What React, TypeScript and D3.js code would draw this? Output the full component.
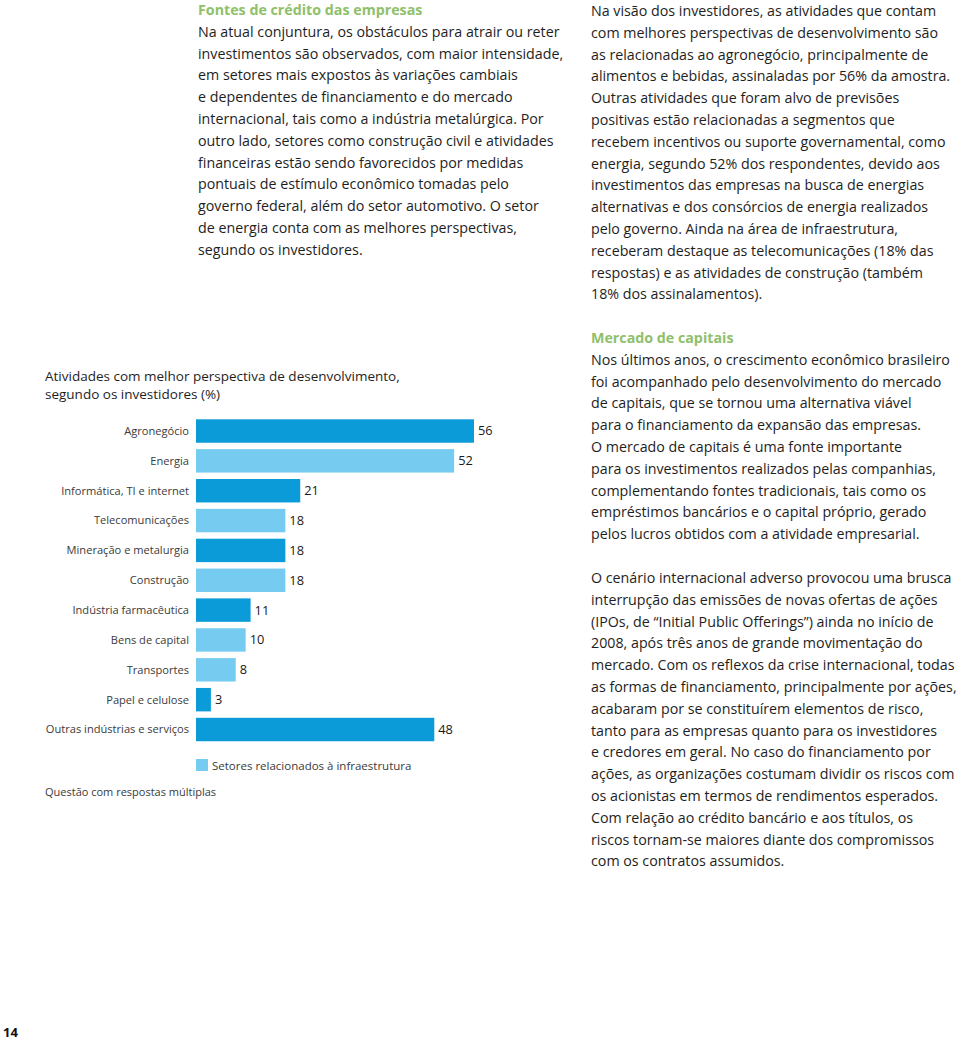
import React from "react";
import * as d3 from "d3";

const categories = [
  "Agronegócio",
  "Energia",
  "Informática, TI e internet",
  "Telecomunicações",
  "Mineração e metalurgia",
  "Construção",
  "Indústria farmacêutica",
  "Bens de capital",
  "Transportes",
  "Papel e celulose",
  "Outras indústrias e serviços",
];
const values = [56, 52, 21, 18, 18, 18, 11, 10, 8, 3, 48];
const infra = [false, true, false, true, false, true, false, true, true, false, false];

const chartTitle = [
  "Atividades com melhor perspectiva de desenvolvimento,",
  "segundo os investidores (%)",
];
const legendLabel = "Setores relacionados à infraestrutura";
const footnote = "Questão com respostas múltiplas";

const col1Heading = "Fontes de crédito das empresas";
const col1Lines = [
  "Na atual conjuntura, os obstáculos para atrair ou reter",
  "investimentos são observados, com maior intensidade,",
  "em setores mais expostos às variações cambiais",
  "e dependentes de financiamento e do mercado",
  "internacional, tais como a indústria metalúrgica. Por",
  "outro lado, setores como construção civil e atividades",
  "financeiras estão sendo favorecidos por medidas",
  "pontuais de estímulo econômico tomadas pelo",
  "governo federal, além do setor automotivo. O setor",
  "de energia conta com as melhores perspectivas,",
  "segundo os investidores.",
];
const col2Lines = [
  "Na visão dos investidores, as atividades que contam",
  "com melhores perspectivas de desenvolvimento são",
  "as relacionadas ao agronegócio, principalmente de",
  "alimentos e bebidas, assinaladas por 56% da amostra.",
  "Outras atividades que foram alvo de previsões",
  "positivas estão relacionadas a segmentos que",
  "recebem incentivos ou suporte governamental, como",
  "energia, segundo 52% dos respondentes, devido aos",
  "investimentos das empresas na busca de energias",
  "alternativas e dos consórcios de energia realizados",
  "pelo governo. Ainda na área de infraestrutura,",
  "receberam destaque as telecomunicações (18% das",
  "respostas) e as atividades de construção (também",
  "18% dos assinalamentos).",
];
const col2Heading = "Mercado de capitais";
const col2bLines = [
  "Nos últimos anos, o crescimento econômico brasileiro",
  "foi acompanhado pelo desenvolvimento do mercado",
  "de capitais, que se tornou uma alternativa viável",
  "para o financiamento da expansão das empresas.",
  "O mercado de capitais é uma fonte importante",
  "para os investimentos realizados pelas companhias,",
  "complementando fontes tradicionais, tais como os",
  "empréstimos bancários e o capital próprio, gerado",
  "pelos lucros obtidos com a atividade empresarial.",
];
const col2cLines = [
  "O cenário internacional adverso provocou uma brusca",
  "interrupção das emissões de novas ofertas de ações",
  "(IPOs, de “Initial Public Offerings”) ainda no início de",
  "2008, após três anos de grande movimentação do",
  "mercado. Com os reflexos da crise internacional, todas",
  "as formas de financiamento, principalmente por ações,",
  "acabaram por se constituírem elementos de risco,",
  "tanto para as empresas quanto para os investidores",
  "e credores em geral. No caso do financiamento por",
  "ações, as organizações costumam dividir os riscos com",
  "os acionistas em termos de rendimentos esperados.",
  "Com relação ao crédito bancário e aos títulos, os",
  "riscos tornam-se maiores diante dos compromissos",
  "com os contratos assumidos.",
];
const pageNumber = "14";

const DARK = "#0a9bd8";
const LIGHT = "#76cbf0";
const GREEN = "#8fc06a";
const TEXT = "#1e1e1e";
const FONT = "'Open Sans', 'Noto Sans', sans-serif";

export default function App() {
  const W = 960;
  const H = 1041;
  const lh = 21.8;
  const bodySize = 14.25;

  const x = d3.scaleLinear().domain([0, 56]).range([196, 474]);
  const step = 29.85;
  const p = 0.215;
  const y = d3
    .scaleBand<string>()
    .domain(categories)
    .range([419.3 - step * p, 419.3 - step * p + step * (categories.length + p)])
    .padding(p);

  const para = (lines: string[], x0: number, yc0: number) =>
    lines.map((t, i) => (
      <text key={t + i} x={x0} y={yc0 + i * lh} dy="0.35em" fontSize={bodySize} fill={TEXT}>
        {t}
      </text>
    ));

  return (
    <svg
      width={W}
      height={H}
      style={{ position: "absolute", left: 0, top: 0, background: "#fff" }}
      fontFamily={FONT}
    >
      <rect width={W} height={H} fill="#fff" />
      {/* Column 1 */}
      <text x={198} y={10} dy="0.35em" fontSize={bodySize} fontWeight={700} fill={GREEN}>
        {col1Heading}
      </text>
      {para(col1Lines, 198, 10 + lh)}

      {/* Column 2 */}
      {para(col2Lines, 591, 11)}
      <text x={591} y={338} dy="0.35em" fontSize={bodySize} fontWeight={700} fill={GREEN}>
        {col2Heading}
      </text>
      {para(col2bLines, 591, 338 + lh)}
      {para(col2cLines, 591, 578)}

      {/* Chart title */}
      {chartTitle.map((t, i) => (
        <text key={t} x={45} y={376 + i * 18} dy="0.35em" fontSize={13.5} fill={TEXT}>
          {t}
        </text>
      ))}

      {/* Bars */}
      {categories.map((c, i) => {
        const yy = y(c)!;
        const bw = y.bandwidth();
        return (
          <g key={c}>
            <rect
              x={x(0)}
              y={yy}
              width={x(values[i]) - x(0)}
              height={bw}
              fill={infra[i] ? LIGHT : DARK}
            />
            <text
              x={x(0) - 7}
              y={yy + bw / 2}
              dy="0.35em"
              textAnchor="end"
              fontSize={11.1}
              fill="#3a3a3a"
            >
              {c}
            </text>
            <text x={x(values[i]) + 4} y={yy + bw / 2} dy="0.35em" fontSize={12.8} fill="#1a1a1a">
              {values[i]}
            </text>
          </g>
        );
      })}

      {/* Legend */}
      <rect x={x(0)} y={759} width={12} height={12} fill={LIGHT} />
      <text x={212} y={766} dy="0.35em" fontSize={11.5} fill="#3a3a3a">
        {legendLabel}
      </text>
      <text x={45} y={792} dy="0.35em" fontSize={11} fill="#3a3a3a">
        {footnote}
      </text>

      <text x={3} y={1032} dy="0.35em" fontSize={13} fontWeight={700} fill="#111">
        {pageNumber}
      </text>
    </svg>
  );
}
